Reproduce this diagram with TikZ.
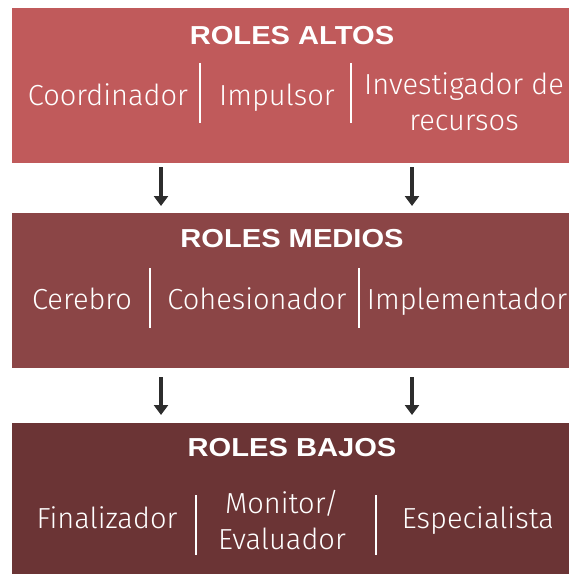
\documentclass[tikz,border=0pt]{standalone}
\usepackage{fontspec}
\setmainfont{Liberation Sans}
\newfontfamily\ttlfont{Liberation Sans}[FakeStretch=1.12]
\newfontfamily\lightfont{Fira Sans}[UprightFont={* Light}]
\usetikzlibrary{arrows.meta}
\definecolor{altoc}{RGB}{192,90,91}
\definecolor{medioc}{RGB}{139,69,70}
\definecolor{bajoc}{RGB}{107,52,53}
\definecolor{arrc}{RGB}{45,45,45}
\tikzset{
  band/.style={draw=none, rectangle, inner sep=0pt, minimum width=557pt, minimum height=#1},
  ttl/.style={text=white, font=\ttlfont\fontsize{26}{28}\selectfont\bfseries, inner sep=0pt},
  role/.style={text=white, font=\lightfont\fontsize{29}{36}\selectfont, inner sep=0pt, align=center},
  sep/.style={draw=white, line width=1.3pt},
  arr/.style={draw=arrc, line width=3.5pt, -{Triangle[length=10pt,width=14pt]}}
}
\begin{document}
\begin{tikzpicture}[x=1pt,y=-1pt]
\useasboundingbox (0,0) rectangle (569,574);
% bands
\node[band=155pt, fill=altoc, anchor=north west] (alto) at (12,8) {};
\node[band=155pt, fill=medioc, anchor=north west] (medio) at (12,213) {};
\node[band=151pt, fill=bajoc, anchor=north west] (bajo) at (12,423) {};
% titles
\node[ttl] (t1) at (292,36) {ROLES ALTOS};
\node[ttl] (t2) at (292,239) {ROLES MEDIOS};
\node[ttl] (t3) at (292,448) {ROLES BAJOS};
% roles altos
\node[role, anchor=base] (coord) at (108,105) {Coordinador};
\node[role, anchor=base] (impul) at (277,105) {Impulsor};
\node[role] (inves) at (464,102) {Investigador de\\recursos};
\coordinate (s1a) at (200,63); \coordinate (s1b) at (200,123);
\coordinate (s2a) at (351,63); \coordinate (s2b) at (351,123);
\draw[sep] (s1a) -- (s1b);
\draw[sep] (s2a) -- (s2b);
% roles medios
\node[role, anchor=base] (cere) at (82,309) {Cerebro};
\node[role, anchor=base] (cohe) at (257,309) {Cohesionador};
\node[role, anchor=base] (impl) at (467,309) {Implementador};
\coordinate (s3a) at (150,268); \coordinate (s3b) at (150,328);
\coordinate (s4a) at (359,268); \coordinate (s4b) at (359,328);
\draw[sep] (s3a) -- (s3b);
\draw[sep] (s4a) -- (s4b);
% roles bajos
\node[role, anchor=base] (fina) at (107,528) {Finalizador};
\node[role] (moni) at (282,520) {Monitor/\\Evaluador};
\node[role, anchor=base] (espe) at (478,528) {Especialista};
\coordinate (s5a) at (196,495); \coordinate (s5b) at (196,555);
\coordinate (s6a) at (376,495); \coordinate (s6b) at (376,555);
\draw[sep] (s5a) -- (s5b);
\draw[sep] (s6a) -- (s6b);
% arrows
\coordinate (a1s) at (161,167); \coordinate (a1e) at (161,206);
\coordinate (a2s) at (412,167); \coordinate (a2e) at (412,206);
\coordinate (a3s) at (161,377); \coordinate (a3e) at (161,415);
\coordinate (a4s) at (412,377); \coordinate (a4e) at (412,415);
\draw[arr] (a1s) -- (a1e);
\draw[arr] (a2s) -- (a2e);
\draw[arr] (a3s) -- (a3e);
\draw[arr] (a4s) -- (a4e);
\end{tikzpicture}
\end{document}
